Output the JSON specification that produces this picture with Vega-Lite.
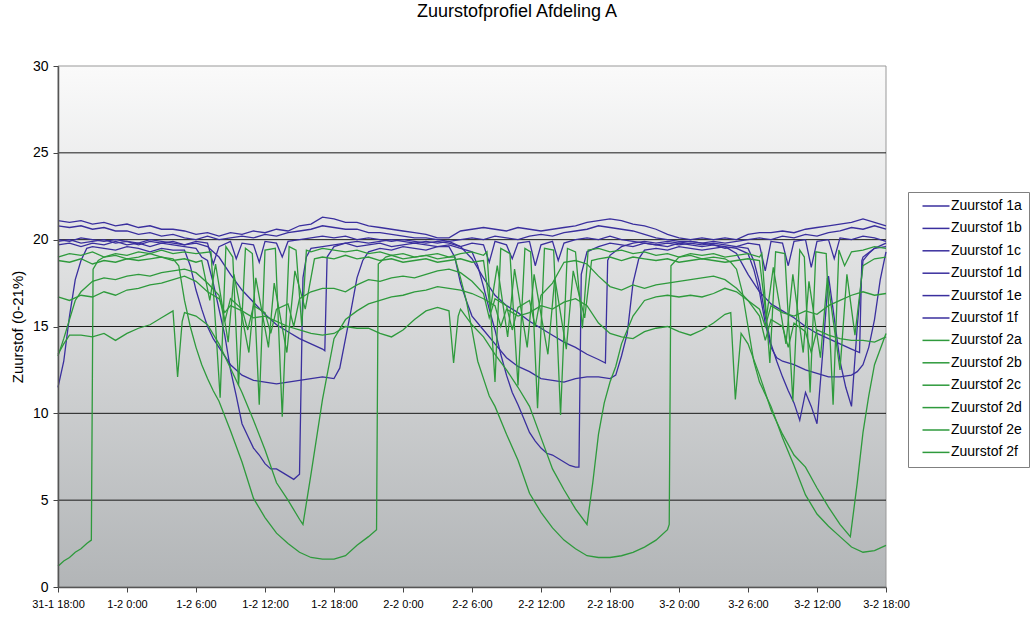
{
"$schema":"https://vega.github.io/schema/vega-lite/v6.json",
"width":828,"height":521,
"autosize":{"type":"none"},
"padding":{"left":58,"top":66,"right":147,"bottom":32},
"background":"white",
"config":{"font":"Liberation Sans","view":{"stroke":null},"axis":{"labelColor":"#000","titleColor":"#000"}},
"title":{"text":"Zuurstofprofiel Afdeling A","fontSize":18,"fontWeight":"normal","font":"Liberation Sans","color":"#000","anchor":"middle","frame":"group","dx":45,"offset":38},
"encoding":{
 "x":{"field":"h","type":"quantitative","scale":{"domain":[0,72],"nice":false,"zero":false},
  "axis":{"values":[0,6,12,18,24,30,36,42,48,54,60,66,72],"labelExpr":"['31-1 18:00','1-2 0:00','1-2 6:00','1-2 12:00','1-2 18:00','2-2 0:00','2-2 6:00','2-2 12:00','2-2 18:00','3-2 0:00','3-2 6:00','3-2 12:00','3-2 18:00'][round(datum.value/6)]","title":null,"grid":false,"tickSize":5,"tickColor":"#444","domainColor":"#555","domainWidth":1.5,"labelFontSize":11,"labelPadding":6,"labelFlush":false,"zindex":1}},
 "y":{"field":"v","type":"quantitative","scale":{"domain":[0,30],"nice":false,"zero":true},
  "axis":{"values":[0,5,10,15,20,25,30],"title":"Zuurstof (0-21%)","titleFontSize":15,"titleFontWeight":"normal","titlePadding":7,"grid":false,"tickSize":5,"tickColor":"#444","domainColor":"#555","domainWidth":1.5,"labelFontSize":14,"labelPadding":5,"zindex":1}}
},
"layer":[
 {"data":{"values":[{"h":0,"h2":72,"v":0,"v2":30}]},
  "mark":{"type":"rect","stroke":"#999","strokeWidth":1,"color":{"gradient":"linear","x1":0,"y1":0,"x2":0,"y2":1,"stops":[{"offset":0,"color":"#fafafa"},{"offset":1,"color":"#b2b5b7"}]}},
  "encoding":{"x2":{"field":"h2"},"y2":{"field":"v2"}}},
 {"data":{"values":[{"v":5},{"v":10},{"v":15},{"v":20},{"v":25}]},
  "mark":{"type":"rule","color":"#1a1a1a","strokeWidth":1},
  "encoding":{"x":null}},
 {"data":{"values":[
{"h":0,"1a":21.1,"1b":20.8,"1c":20.0,"1d":19.7,"1e":11.5,"1f":19.9,"2a":19.0,"2b":18.8,"2c":13.3,"2d":16.7,"2e":13.4,"2f":1.2},
{"h":1,"1a":21.0,"1b":20.7,"1c":19.9,"1d":19.8,"1e":15.6,"1f":20.0,"2a":19.2,"2b":18.7,"2c":15.4,"2d":16.5,"2e":14.5,"2f":1.7},
{"h":2,"1a":21.1,"1b":20.8,"1c":20.1,"1d":19.6,"1e":18.8,"1f":19.8,"2a":19.1,"2b":18.9,"2c":17.0,"2d":16.8,"2e":14.5,"2f":2.2},
{"h":3,"1a":20.9,"1b":20.6,"1c":20.0,"1d":19.8,"1e":19.6,"1f":19.9,"2a":19.3,"2b":18.6,"2c":17.6,"2d":16.7,"2e":14.4},
{"h":4,"1a":21.0,"1b":20.7,"1c":19.9,"1d":19.7,"1e":19.5,"1f":20.0,"2a":19.0,"2b":18.8,"2c":17.8,"2d":17.0,"2e":14.6,"2f":19.0},
{"h":5,"1a":20.8,"1b":20.5,"1c":20.0,"1d":19.9,"1e":19.4,"1f":19.8,"2a":19.2,"2b":18.7,"2c":17.7,"2d":16.8,"2e":14.2,"2f":19.1},
{"h":6,"1a":20.9,"1b":20.5,"1c":19.9,"1d":19.7,"1e":19.6,"1f":19.9,"2a":19.1,"2b":18.9,"2c":17.9,"2d":17.1,"2e":14.6,"2f":18.9},
{"h":7,"1a":20.7,"1b":20.3,"1c":19.8,"1d":19.8,"1e":19.5,"1f":19.7,"2a":19.3,"2b":18.8,"2c":18.0,"2d":17.2,"2e":14.9,"2f":19.0},
{"h":8,"1a":20.8,"1b":20.4,"1c":20.0,"1d":19.6,"1e":19.3,"1f":19.9,"2a":19.2,"2b":18.9,"2c":17.9,"2d":17.4,"2e":15.1,"2f":19.2},
{"h":9,"1a":20.6,"1b":20.2,"1c":19.9,"1d":19.8,"1e":19.5,"1f":19.8,"2a":19.4,"2b":19.0,"2c":18.1,"2d":17.5,"2e":15.5,"2f":19.0},
{"h":10,"1a":20.6,"1b":20.3,"1c":19.8,"1d":19.7,"1e":19.4,"1f":19.9,"2a":19.2,"2b":18.8,"2c":18.2,"2d":17.7,"2e":15.9,"2f":18.9},
{"h":11,"1a":20.5,"1b":20.1,"1c":19.7,"1d":19.6,"1e":19.4,"1f":19.7,"2a":19.3,"2b":18.9,"2c":18.3,"2d":17.9,"2e":15.8,"2f":16.5},
{"h":12,"1a":20.3,"1b":20.0,"1c":19.9,"1d":19.5,"1e":17.1,"1f":19.8,"2a":19.2,"2b":18.7,"2c":18.1,"2d":17.6,"2e":15.6,"2f":13.8},
{"h":13,"1a":20.4,"1b":20.2,"1c":19.8,"1d":18.8,"1e":15.0,"1f":19.6,"2c":17.5,"2d":17.0,"2e":15.1,"2f":12.0},
{"h":14,"1a":20.2,"1b":20.0,"1c":19.6,"1d":16.0,"1e":13.8,"1f":19.0,"2c":16.8,"2d":16.6,"2e":14.0,"2f":10.7},
{"h":15,"1a":20.4,"1b":20.1,"1c":19.9,"1d":12.5,"1e":12.8,"1f":18.0,"2c":16.6,"2d":16.2,"2e":12.6,"2f":9.0},
{"h":16,"1a":20.3,"1b":20.2,"1c":19.8,"1d":9.4,"1e":12.2,"1f":17.1,"2c":16.0,"2d":15.9,"2e":11.2,"2f":7.2},
{"h":17,"1a":20.5,"1b":20.1,"1c":19.7,"1d":8.0,"1e":11.9,"1f":16.4,"2c":16.2,"2d":15.5,"2e":9.6,"2f":5.1},
{"h":18,"1a":20.4,"1b":20.3,"1c":19.9,"1d":7.1,"1e":11.8,"1f":15.7,"2a":19.4,"2c":15.8,"2d":15.6,"2e":7.9,"2f":4.0},
{"h":19,"1a":20.6,"1b":20.2,"1c":19.8,"1d":6.8,"1e":11.7,"1f":15.1,"2c":16.0,"2d":15.3,"2e":6.0,"2f":3.1},
{"h":20,"1a":20.5,"1b":20.4,"1c":19.9,"1d":6.4,"1e":11.8,"1f":14.7,"2c":16.3,"2d":15.0,"2e":5.0,"2f":2.5},
{"h":21,"1a":20.8,"1b":20.5,"1c":20.0,"1d":6.5,"1e":11.9,"1f":14.3,"2c":16.6,"2d":14.8,"2e":3.9,"2f":2.0},
{"h":22,"1a":20.9,"1b":20.6,"1c":20.1,"1d":19.5,"1e":12.0,"1f":14.0,"2a":19.3,"2c":17.0,"2d":14.6,"2e":6.5,"2f":1.7},
{"h":23,"1a":21.3,"1b":20.8,"1c":20.2,"1d":19.6,"1e":12.1,"1f":13.7,"2a":19.5,"2b":19.0,"2c":17.2,"2d":14.5,"2e":10.8,"2f":1.6},
{"h":24,"1a":21.2,"1b":20.7,"1c":20.1,"1d":19.7,"1e":12.0,"1f":19.6,"2a":19.4,"2b":18.9,"2c":17.2,"2d":14.6,"2e":14.3,"2f":1.6},
{"h":25,"1a":21.0,"1b":20.6,"1c":20.2,"1d":19.8,"1e":14.3,"1f":19.8,"2a":19.3,"2b":19.1,"2c":17.0,"2d":15.0,"2e":15.4,"2f":1.8},
{"h":26,"1a":21.0,"1b":20.6,"1c":20.0,"1d":19.6,"1e":17.8,"1f":19.9,"2a":19.4,"2b":18.9,"2c":17.4,"2d":14.9,"2e":15.9,"2f":2.4},
{"h":27,"1a":20.8,"1b":20.4,"1c":20.1,"1d":19.7,"1e":19.3,"1f":19.8,"2a":19.2,"2b":19.0,"2c":17.7,"2d":14.9,"2e":16.3,"2f":2.9},
{"h":28,"1a":20.7,"1b":20.4,"1c":20.0,"1d":19.8,"1e":19.5,"1f":19.9,"2a":19.3,"2b":18.8,"2c":17.6,"2d":14.6,"2e":16.5},
{"h":29,"1a":20.6,"1b":20.3,"1c":19.9,"1d":19.6,"1e":19.4,"1f":20.0,"2a":19.1,"2b":18.9,"2c":17.8,"2d":14.4,"2e":16.7,"2f":19.1},
{"h":30,"1a":20.5,"1b":20.2,"1c":20.0,"1d":19.7,"1e":19.6,"1f":19.9,"2a":19.2,"2b":18.7,"2c":17.9,"2d":14.8,"2e":16.8,"2f":18.9},
{"h":31,"1a":20.4,"1b":20.1,"1c":19.9,"1d":19.8,"1e":19.5,"1f":19.8,"2a":19.0,"2b":18.8,"2c":17.8,"2d":15.4,"2e":17.0,"2f":19.0},
{"h":32,"1a":20.3,"1b":20.1,"1c":19.8,"1d":19.7,"1e":19.4,"1f":19.9,"2a":19.1,"2b":18.9,"2c":18.0,"2d":15.9,"2e":17.1,"2f":19.1},
{"h":33,"1a":20.1,"1b":20.0,"1c":19.9,"1d":19.6,"1e":19.6,"1f":19.8,"2a":19.2,"2b":18.7,"2c":18.2,"2d":16.1,"2e":17.3,"2f":18.9},
{"h":34,"1a":20.1,"1b":19.9,"1c":19.8,"1d":19.7,"1e":19.6,"1f":19.9,"2a":19.0,"2b":18.8,"2c":18.3,"2d":15.9,"2e":17.2,"2f":19.0},
{"h":35,"1a":20.5,"1b":20.0,"1c":19.6,"1d":19.5,"1e":17.5,"1f":19.6,"2a":19.2,"2b":18.9,"2c":18.1,"2d":16.0,"2e":17.1,"2f":17.8},
{"h":36,"1a":20.6,"1b":20.1,"1c":19.8,"1d":19.3,"1e":15.6,"1f":18.9,"2a":19.3,"2b":18.7,"2c":17.6,"2d":15.1,"2e":16.9,"2f":14.8},
{"h":37,"1a":20.7,"1b":20.0,"1c":19.7,"1d":17.3,"1e":14.8,"1f":17.8,"2a":19.1,"2b":18.8,"2c":16.9,"2d":14.4,"2e":16.6,"2f":12.0},
{"h":38,"1a":20.6,"1b":20.2,"1c":19.9,"1d":14.8,"1e":14.0,"1f":16.8,"2a":11.8,"2c":16.6,"2d":13.4,"2e":16.2,"2f":10.4},
{"h":39,"1a":20.5,"1b":20.1,"1c":19.7,"1d":12.2,"1e":13.2,"1f":16.2,"2c":16.2,"2d":12.5,"2e":16.0,"2f":8.8},
{"h":40,"1a":20.7,"1b":20.0,"1c":19.8,"1d":10.5,"1e":12.7,"1f":15.8,"2a":11.6,"2c":16.1,"2d":11.5,"2e":15.6,"2f":7.3},
{"h":41,"1a":20.6,"1b":20.2,"1c":19.9,"1d":8.9,"1e":12.4,"1f":15.3,"2c":16.5,"2d":10.4,"2e":15.8,"2f":5.4},
{"h":42,"1a":20.5,"1b":20.3,"1c":19.7,"1d":8.0,"1e":12.0,"1f":14.9,"2c":16.8,"2d":8.6,"2e":16.2,"2f":4.3},
{"h":43,"1a":20.6,"1b":20.2,"1c":19.9,"1d":7.6,"1e":11.9,"1f":14.5,"2c":17.5,"2d":6.8,"2e":16.0,"2f":3.4},
{"h":44,"1a":20.7,"1b":20.4,"1c":19.8,"1d":7.2,"1e":11.8,"1f":14.1,"2c":18.7,"2d":5.6,"2e":16.4,"2f":2.7},
{"h":45,"1a":20.8,"1b":20.5,"1c":20.0,"1d":6.9,"1e":12.0,"1f":13.8,"2a":19.3,"2c":18.8,"2d":4.5,"2e":16.6,"2f":2.2},
{"h":46,"1a":21.0,"1b":20.6,"1c":20.1,"1d":19.3,"1e":12.1,"1f":13.4,"2c":18.6,"2d":3.6,"2e":16.2,"2f":1.8},
{"h":47,"1a":21.1,"1b":20.8,"1c":20.0,"1d":19.6,"1e":12.1,"1f":13.1,"2a":19.5,"2b":18.9,"2c":17.9,"2d":8.8,"2e":15.2,"2f":1.7},
{"h":48,"1a":21.2,"1b":20.7,"1c":20.2,"1d":19.8,"1e":12.0,"1f":19.1,"2a":19.3,"2b":19.0,"2c":17.3,"2d":11.8,"2e":14.6,"2f":1.7},
{"h":49,"1a":21.1,"1b":20.6,"1c":20.0,"1d":19.7,"1e":13.3,"1f":19.6,"2a":19.4,"2b":18.8,"2c":17.1,"2d":14.0,"2e":14.4,"2f":1.8},
{"h":50,"1a":20.9,"1b":20.5,"1c":19.9,"1d":19.6,"1e":17.5,"1f":19.8,"2a":19.2,"2b":19.0,"2c":17.4,"2d":15.6,"2e":14.3,"2f":2.0},
{"h":51,"1a":20.8,"1b":20.3,"1c":19.8,"1d":19.8,"1e":19.4,"1f":19.9,"2a":19.3,"2b":18.9,"2c":17.2,"2d":16.5,"2e":14.7,"2f":2.3},
{"h":52,"1a":20.6,"1b":20.1,"1c":19.7,"1d":19.7,"1e":19.5,"1f":19.8,"2a":19.1,"2b":18.8,"2c":17.4,"2d":16.7,"2e":14.9,"2f":2.7},
{"h":53,"1a":20.3,"1b":20.0,"1c":19.8,"1d":19.6,"1e":19.4,"1f":19.9,"2a":19.2,"2b":18.9,"2c":17.5,"2d":16.8,"2e":15.0,"2f":3.3},
{"h":54,"1a":20.1,"1b":19.9,"1c":19.7,"1d":19.8,"1e":19.6,"1f":19.8,"2a":19.0,"2b":18.7,"2c":17.6,"2d":16.7,"2e":14.7,"2f":19.0},
{"h":55,"1a":20.0,"1b":19.9,"1c":19.8,"1d":19.7,"1e":19.5,"1f":19.9,"2a":19.2,"2b":18.8,"2c":17.7,"2d":16.8,"2e":14.5,"2f":19.1},
{"h":56,"1a":20.1,"1b":19.8,"1c":19.7,"1d":19.6,"1e":19.4,"1f":19.8,"2a":19.1,"2b":18.9,"2c":17.8,"2d":16.7,"2e":14.8,"2f":18.9},
{"h":57,"1a":20.0,"1b":19.9,"1c":19.8,"1d":19.7,"1e":19.5,"1f":19.7,"2a":19.2,"2b":18.8,"2c":17.9,"2d":16.9,"2e":15.2,"2f":19.0},
{"h":58,"1a":20.1,"1b":19.8,"1c":19.7,"1d":19.5,"1e":19.6,"1f":19.6,"2a":19.0,"2b":18.7,"2c":17.7,"2d":17.2,"2e":15.7,"2f":18.9},
{"h":59,"1a":20.0,"1b":19.9,"1c":19.6,"1d":19.6,"1e":19.5,"1f":19.2,"2a":19.1,"2b":18.8,"2c":17.2,"2d":17.0,"2f":18.3},
{"h":60,"1a":20.3,"1b":20.0,"1c":19.8,"1d":19.5,"1e":19.2,"1f":18.0,"2a":19.2,"2b":18.9,"2c":16.5,"2d":16.5,"2e":14.0,"2f":15.0},
{"h":61,"1a":20.4,"1b":20.1,"1c":19.7,"1d":17.5,"1e":17.0,"1f":17.0,"2a":19.0,"2b":18.8,"2c":15.6,"2d":16.0,"2e":12.2,"2f":11.8},
{"h":62,"1a":20.4,"1b":20.0,"1c":19.9,"1d":14.0,"1e":13.8,"1f":16.3,"2c":15.4,"2d":16.2,"2e":10.2,"2f":10.4},
{"h":63,"1a":20.5,"1b":20.2,"1c":19.8,"1d":12.1,"1e":13.0,"1f":15.9,"2c":15.0,"2d":15.8,"2e":8.8,"2f":8.6},
{"h":64,"1a":20.4,"1b":20.1,"1c":19.9,"1d":10.6,"1e":12.8,"1f":15.5,"2c":15.2,"2d":15.6,"2e":7.6,"2f":7.0},
{"h":65,"1a":20.6,"1b":20.3,"1c":20.0,"1d":11.2,"1e":12.5,"1f":15.0,"2c":14.7,"2d":15.9,"2e":6.9,"2f":5.3},
{"h":66,"1a":20.7,"1b":20.2,"1c":19.9,"1d":9.4,"1e":12.3,"1f":14.6,"2c":14.8,"2d":15.7,"2e":5.7,"2f":4.2},
{"h":67,"1a":20.8,"1b":20.4,"1c":20.0,"1d":17.9,"1e":12.1,"1f":14.3,"2c":14.5,"2d":16.2,"2e":4.6,"2f":3.5},
{"h":68,"1a":20.9,"1b":20.5,"1c":20.1,"1d":13.0,"1e":12.1,"1f":14.0,"2b":12.5,"2c":14.3,"2d":16.5,"2e":3.6,"2f":2.9},
{"h":69,"1a":21.0,"1b":20.7,"1c":20.0,"1d":10.4,"1e":12.2,"1f":13.7,"2a":19.3,"2c":14.2,"2d":16.8,"2f":2.3},
{"h":70,"1a":21.2,"1b":20.6,"1c":20.2,"1d":18.8,"1e":12.8,"1f":19.0,"2a":19.4,"2b":18.5,"2c":14.2,"2d":17.0,"2e":8.9,"2f":2.0},
{"h":71,"1a":21.0,"1b":20.8,"1c":20.1,"1d":19.5,"1e":15.4,"1f":19.5,"2a":19.6,"2b":18.9,"2c":14.1,"2d":16.8,"2e":12.8,"2f":2.1},
{"h":72,"1a":20.8,"1b":20.6,"1c":19.9,"1d":19.6,"1e":19.3,"1f":19.8,"2a":19.5,"2b":19.0,"2c":14.4,"2d":16.9,"2e":14.6,"2f":2.4},
{"h":0.5,"1e":13.0,"2c":14.3,"2e":14.0,"2f":1.5},
{"h":1.5,"1e":17.7,"2c":16.5,"2f":2.0},
{"h":2.5,"1e":19.5,"2c":17.3,"2f":2.5},
{"h":2.9,"2f":2.7},
{"h":3.05,"2f":18.3},
{"h":3.5,"2f":18.8},
{"h":10.4,"2e":12.1},
{"h":10.5,"2f":18.5},
{"h":10.8,"2e":15.3},
{"h":11.5,"1e":18.5,"2f":15.0},
{"h":12.5,"1d":19.0,"1e":16.0,"2b":18.8,"2f":12.8},
{"h":13.2,"2b":16.5},
{"h":13.3,"2a":19.3},
{"h":13.5,"1c":18.6,"1d":17.5,"1e":14.3,"2f":11.3},
{"h":13.7,"2b":18.6},
{"h":14.1,"2a":10.9},
{"h":14.5,"1d":14.5,"2c":15.3,"2d":15.8},
{"h":14.6,"2a":19.6},
{"h":14.8,"2b":14.1},
{"h":15.2,"2a":19.0},
{"h":15.3,"2b":18.0},
{"h":15.5,"1c":18.9,"1d":11.0},
{"h":15.7,"2a":11.6},
{"h":16.3,"2a":19.5},
{"h":16.5,"1d":8.7,"2c":14.8},
{"h":16.6,"2b":13.5},
{"h":16.9,"2a":19.2},
{"h":17.2,"2b":17.8},
{"h":17.5,"1c":18.7,"1d":7.6,"2a":10.5},
{"h":18.3,"2b":13.8},
{"h":18.5,"1d":6.8,"2c":14.6},
{"h":18.8,"2b":17.5},
{"h":18.9,"2a":19.5},
{"h":19.5,"1c":19.0,"1d":6.6,"2a":9.8},
{"h":19.9,"2b":13.5},
{"h":20.1,"2a":19.6},
{"h":20.5,"1d":6.2,"2c":15.0},
{"h":20.6,"2b":18.2},
{"h":20.7,"2a":19.4},
{"h":21.2,"2a":15.0},
{"h":21.3,"1d":17.8,"2e":3.6},
{"h":21.5,"2b":16.0},
{"h":21.6,"1d":19.0,"2a":19.4},
{"h":22.3,"2b":18.9},
{"h":23.2,"1f":13.6},
{"h":23.4,"1f":19.0},
{"h":24.5,"1e":12.6},
{"h":25.5,"1e":16.0},
{"h":26.5,"1e":18.8},
{"h":27.7,"2f":3.3},
{"h":27.85,"2f":18.6},
{"h":28.5,"2f":19.0},
{"h":34.4,"2d":12.9},
{"h":34.5,"1e":19.0,"2f":19.0},
{"h":34.8,"2d":15.6},
{"h":35.5,"1e":16.5,"2f":16.5},
{"h":36.5,"1d":18.5,"2f":13.0},
{"h":37.3,"2a":19.3},
{"h":37.5,"1c":18.7,"1d":16.0,"2c":15.5,"2f":11.0},
{"h":37.6,"2b":16.0},
{"h":38.2,"2b":18.5},
{"h":38.5,"1d":13.4,"2a":19.5,"2e":15.0},
{"h":39.1,"2b":14.4},
{"h":39.3,"2a":19.2},
{"h":39.5,"1c":18.9,"1d":11.2,"2c":14.8},
{"h":39.7,"2b":18.3},
{"h":40.5,"1d":9.7},
{"h":40.6,"2a":19.5},
{"h":40.8,"2b":13.8},
{"h":41.1,"2a":19.3},
{"h":41.4,"2b":18.0},
{"h":41.5,"1c":18.5,"1d":8.4,"2c":15.0},
{"h":41.7,"2a":10.3},
{"h":42.3,"2a":19.5},
{"h":42.5,"1d":7.7},
{"h":42.6,"2b":13.4},
{"h":43.1,"2a":19.4},
{"h":43.2,"2b":17.8},
{"h":43.5,"1c":18.8,"1d":7.4},
{"h":43.7,"2a":9.9},
{"h":44.2,"2b":13.7},
{"h":44.3,"2a":19.5},
{"h":44.5,"1d":7.0},
{"h":44.8,"2b":18.2},
{"h":45.3,"1d":6.9},
{"h":45.5,"1d":18.0},
{"h":45.6,"2a":14.9},
{"h":45.8,"2b":15.5},
{"h":46.1,"2a":19.4},
{"h":46.4,"2b":18.8},
{"h":46.5,"2d":6.0},
{"h":47.5,"2d":10.6},
{"h":47.6,"1f":12.9},
{"h":47.8,"1f":18.8},
{"h":48.5,"1e":12.2,"2d":12.7},
{"h":49.5,"1e":14.6,"2d":14.8},
{"h":50.5,"1e":18.9},
{"h":53.15,"2f":3.6},
{"h":53.3,"2f":18.5},
{"h":58.5,"2e":15.8,"2f":18.7},
{"h":58.9,"2e":10.8},
{"h":59.4,"2e":14.6},
{"h":59.5,"2f":17.0},
{"h":60.5,"1d":18.8,"1e":18.3,"2f":13.0},
{"h":61.2,"2a":19.2},
{"h":61.5,"1c":18.2,"1d":15.6,"1e":15.2,"2c":14.2,"2d":15.0,"2f":11.1},
{"h":61.6,"2b":15.5},
{"h":61.9,"2a":12.9},
{"h":62.2,"2b":18.4},
{"h":62.4,"2a":19.3},
{"h":62.5,"1d":13.0,"1e":13.2},
{"h":63.2,"2a":19.2},
{"h":63.3,"2b":14.0},
{"h":63.5,"1c":18.5,"1d":11.3,"2c":13.8},
{"h":63.9,"2a":10.7,"2b":18.0},
{"h":64.5,"1d":9.6,"2a":19.4},
{"h":64.8,"2b":13.5},
{"h":64.9,"2a":19.0},
{"h":65.3,"2b":17.6},
{"h":65.4,"2a":11.2},
{"h":65.5,"1c":18.4,"1d":10.4,"2c":13.5},
{"h":65.9,"2a":19.3},
{"h":66.3,"2b":13.2},
{"h":66.5,"1d":13.5},
{"h":66.8,"2a":19.2},
{"h":66.9,"2b":17.8},
{"h":67.4,"2a":10.5},
{"h":67.5,"1c":18.9,"1d":15.5},
{"h":67.9,"2a":19.4},
{"h":68.4,"2a":18.5},
{"h":68.5,"1d":11.5},
{"h":68.6,"2b":18.0},
{"h":68.9,"2e":2.9},
{"h":69.3,"2b":14.5},
{"h":69.5,"1d":15.0,"1e":12.4,"2e":6.0},
{"h":69.7,"1f":13.5},
{"h":69.9,"1f":18.8},
{"h":70.5,"1d":19.2,"1e":13.8,"2e":11.0},
{"h":71.5,"1e":17.7}
 ]},
  "transform":[{"fold":["1a","1b","1c","1d","1e","1f","2a","2b","2c","2d","2e","2f"],"as":["s","v"]},{"filter":"isValid(datum.v)"}],
  "mark":{"type":"line","strokeWidth":1.3},
  "encoding":{"color":{"field":"s","type":"nominal",
   "scale":{"domain":["1a","1b","1c","1d","1e","1f","2a","2b","2c","2d","2e","2f"],"range":["#3a2f9e","#3a2f9e","#3a2f9e","#3a2f9e","#3a2f9e","#3a2f9e","#2e9a3c","#2e9a3c","#2e9a3c","#2e9a3c","#2e9a3c","#2e9a3c"]},
   "legend":{"orient":"none","legendX":850,"legendY":126,"title":null,"labelExpr":"'Zuurstof ' + datum.label","labelFontSize":14,"labelFont":"Liberation Sans","labelColor":"#000","symbolType":"M-2.7,0H2.7","symbolSize":100,"symbolStrokeWidth":1.5,"strokeColor":"#808080","fillColor":"white","padding":7,"rowPadding":8.4,"labelOffset":8,"symbolOffset":14,"labelLimit":200}}}}
]
}
